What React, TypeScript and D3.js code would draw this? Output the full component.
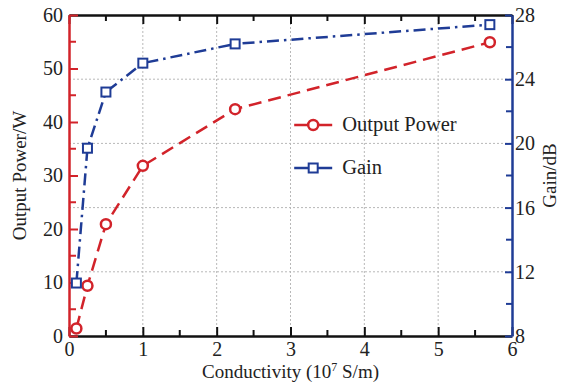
import { useEffect, useRef } from 'react';
import * as d3 from 'd3';

const conductivity = [0.1, 0.25, 0.5, 1, 2.25, 5.7];
const outputPower = [1.4, 9.4, 20.9, 31.8, 42.4, 54.9];
const gain = [11.3, 19.7, 23.2, 25.0, 26.2, 27.4];
const xTicks = [0, 1, 2, 3, 4, 5, 6];
const powerTicks = [0, 10, 20, 30, 40, 50, 60];
const gainTicks = [8, 12, 16, 20, 24, 28];
const seriesNames = ['Output Power', 'Gain'];

const RED = '#d2232a';
const BLUE = '#1f3c96';
const FONT = '"Liberation Serif", "Times New Roman", serif';

export default function App() {
  const svgRef = useRef<SVGSVGElement>(null);

  useEffect(() => {
    document.body.style.margin = '0';
    if (!svgRef.current) return;
    const svg = d3.select(svgRef.current);
    svg.selectAll('*').remove();

    const margin = { top: 15, right: 49, bottom: 51, left: 69 };
    const width = 561;
    const height = 387;
    const innerWidth = width - margin.left - margin.right;
    const innerHeight = height - margin.top - margin.bottom;

    const x = d3.scaleLinear().domain([0, 6]).range([0, innerWidth]);
    const yLeft = d3.scaleLinear().domain([0, 60]).range([innerHeight, 0]);
    const yRight = d3.scaleLinear().domain([8, 28]).range([innerHeight, 0]);

    const g = svg.append('g').attr('transform', `translate(${margin.left},${margin.top})`);

    // Grid lines (dotted)
    g.append('g')
      .selectAll('line')
      .data(xTicks.slice(1, -1))
      .enter()
      .append('line')
      .attr('x1', d => x(d))
      .attr('x2', d => x(d))
      .attr('y1', 0)
      .attr('y2', innerHeight)
      .attr('stroke', '#b8b8b8')
      .attr('stroke-width', 1)
      .attr('stroke-dasharray', '2,2');

    g.append('g')
      .selectAll('line')
      .data(gainTicks.slice(1, -1))
      .enter()
      .append('line')
      .attr('x1', 0)
      .attr('x2', innerWidth)
      .attr('y1', d => yRight(d))
      .attr('y2', d => yRight(d))
      .attr('stroke', '#b8b8b8')
      .attr('stroke-width', 1)
      .attr('stroke-dasharray', '2,2');

    // Bottom axis
    const bottom = g.append('g')
      .attr('transform', `translate(0,${innerHeight})`)
      .call(d3.axisBottom(x).tickValues(xTicks).tickFormat(d3.format('d')).tickSizeInner(-9).tickSizeOuter(0).tickPadding(6));
    bottom.select('.domain').attr('stroke', '#111').attr('stroke-width', 2.5);
    bottom.selectAll('.tick line').attr('stroke', '#111').attr('stroke-width', 2);
    bottom.selectAll('text').attr('font-family', FONT).attr('font-size', 20).attr('fill', '#222');
    bottom.selectAll('.minor')
      .data(d3.range(0.5, 6, 1))
      .enter()
      .append('line')
      .attr('x1', d => x(d))
      .attr('x2', d => x(d))
      .attr('y1', 0)
      .attr('y2', -6)
      .attr('stroke', '#111')
      .attr('stroke-width', 2);

    // Top border
    const top = g.append('g')
      .call(d3.axisTop(x).tickValues(xTicks).tickSizeInner(-9).tickSizeOuter(0).tickFormat(() => ''));
    top.select('.domain').attr('stroke', '#111').attr('stroke-width', 2.5);
    top.selectAll('.tick line').attr('stroke', '#111').attr('stroke-width', 2);
    top.selectAll('.minor')
      .data(d3.range(0.5, 6, 1))
      .enter()
      .append('line')
      .attr('x1', d => x(d))
      .attr('x2', d => x(d))
      .attr('y1', 0)
      .attr('y2', 6)
      .attr('stroke', '#111')
      .attr('stroke-width', 2);

    // Left axis (red)
    const left = g.append('g')
      .call(d3.axisLeft(yLeft).tickValues(powerTicks).tickSizeInner(-9).tickSizeOuter(0).tickPadding(6));
    left.select('.domain').attr('stroke', RED).attr('stroke-width', 2.5);
    left.selectAll('.tick line').attr('stroke', RED).attr('stroke-width', 2);
    left.selectAll('text').attr('font-family', FONT).attr('font-size', 20).attr('fill', '#222');
    left.selectAll('.minor')
      .data(d3.range(5, 60, 10))
      .enter()
      .append('line')
      .attr('x1', 0)
      .attr('x2', 7)
      .attr('y1', d => yLeft(d))
      .attr('y2', d => yLeft(d))
      .attr('stroke', RED)
      .attr('stroke-width', 2);

    // Right axis (blue)
    const right = g.append('g')
      .attr('transform', `translate(${innerWidth},0)`)
      .call(d3.axisRight(yRight).tickValues(gainTicks).tickSizeInner(-7).tickSizeOuter(0).tickPadding(3));
    right.select('.domain').attr('stroke', BLUE).attr('stroke-width', 2.5);
    right.selectAll('.tick line').attr('stroke', BLUE).attr('stroke-width', 2);
    right.selectAll('text').attr('font-family', FONT).attr('font-size', 20).attr('fill', '#222');
    right.selectAll('.minor')
      .data(d3.range(10, 28, 4))
      .enter()
      .append('line')
      .attr('x1', 0)
      .attr('x2', -6)
      .attr('y1', d => yRight(d))
      .attr('y2', d => yRight(d))
      .attr('stroke', BLUE)
      .attr('stroke-width', 2);

    // Gain line
    const gainLine = d3.line<number>()
      .x((_, i) => x(conductivity[i]))
      .y(d => yRight(d));
    g.append('path')
      .datum(gain)
      .attr('d', gainLine)
      .attr('fill', 'none')
      .attr('stroke', BLUE)
      .attr('stroke-width', 2.5)
      .attr('stroke-dasharray', '12,5,2.5,5');

    // Output power line
    const powerLine = d3.line<number>()
      .x((_, i) => x(conductivity[i]))
      .y(d => yLeft(d));
    g.append('path')
      .datum(outputPower)
      .attr('d', powerLine)
      .attr('fill', 'none')
      .attr('stroke', RED)
      .attr('stroke-width', 2.5)
      .attr('stroke-dasharray', '13,7');

    // Markers
    g.selectAll('.power-pt')
      .data(outputPower)
      .enter()
      .append('circle')
      .attr('cx', (_, i) => x(conductivity[i]))
      .attr('cy', d => yLeft(d))
      .attr('r', 5)
      .attr('fill', '#fff')
      .attr('stroke', RED)
      .attr('stroke-width', 2.5);

    g.selectAll('.gain-pt')
      .data(gain)
      .enter()
      .append('rect')
      .attr('x', (_, i) => x(conductivity[i]) - 4.5)
      .attr('y', d => yRight(d) - 4.5)
      .attr('width', 9)
      .attr('height', 9)
      .attr('fill', '#fff')
      .attr('stroke', BLUE)
      .attr('stroke-width', 2);

    // Legend
    const legend = g.append('g').attr('transform', `translate(${x(3.05)},0)`);
    [RED, BLUE].forEach((color, i) => {
      const ly = 110 + i * 43;
      legend.append('line')
        .attr('x1', 0).attr('x2', 38).attr('y1', ly).attr('y2', ly)
        .attr('stroke', color).attr('stroke-width', 2.5);
      if (i === 0) {
        legend.append('circle')
          .attr('cx', 19).attr('cy', ly).attr('r', 5)
          .attr('fill', '#fff').attr('stroke', color).attr('stroke-width', 2.5);
      } else {
        legend.append('rect')
          .attr('x', 14.5).attr('y', ly - 4.5).attr('width', 9).attr('height', 9)
          .attr('fill', '#fff').attr('stroke', color).attr('stroke-width', 2);
      }
      legend.append('text')
        .attr('x', 48).attr('y', ly + 6)
        .attr('font-family', FONT).attr('font-size', 20.5).attr('fill', '#222')
        .text(seriesNames[i]);
    });

    // Axis titles
    const xTitle = svg.append('text')
      .attr('x', margin.left + innerWidth / 2)
      .attr('y', 378)
      .attr('text-anchor', 'middle')
      .attr('font-family', FONT)
      .attr('font-size', 19)
      .attr('fill', '#222');
    xTitle.append('tspan').text('Conductivity (10');
    xTitle.append('tspan').attr('font-size', 12).attr('dy', -7).text('7');
    xTitle.append('tspan').attr('dy', 7).text(' S/m)');

    svg.append('text')
      .attr('transform', `translate(26,${margin.top + innerHeight / 2}) rotate(-90)`)
      .attr('text-anchor', 'middle')
      .attr('font-family', FONT)
      .attr('font-size', 19)
      .attr('fill', '#222')
      .text('Output Power/W');

    svg.append('text')
      .attr('transform', `translate(556,${margin.top + innerHeight / 2}) rotate(-90)`)
      .attr('text-anchor', 'middle')
      .attr('font-family', FONT)
      .attr('font-size', 19)
      .attr('fill', '#222')
      .text('Gain/dB');
  }, []);

  return <svg ref={svgRef} width={561} height={387} style={{ display: 'block', background: '#fff' }} />;
}
